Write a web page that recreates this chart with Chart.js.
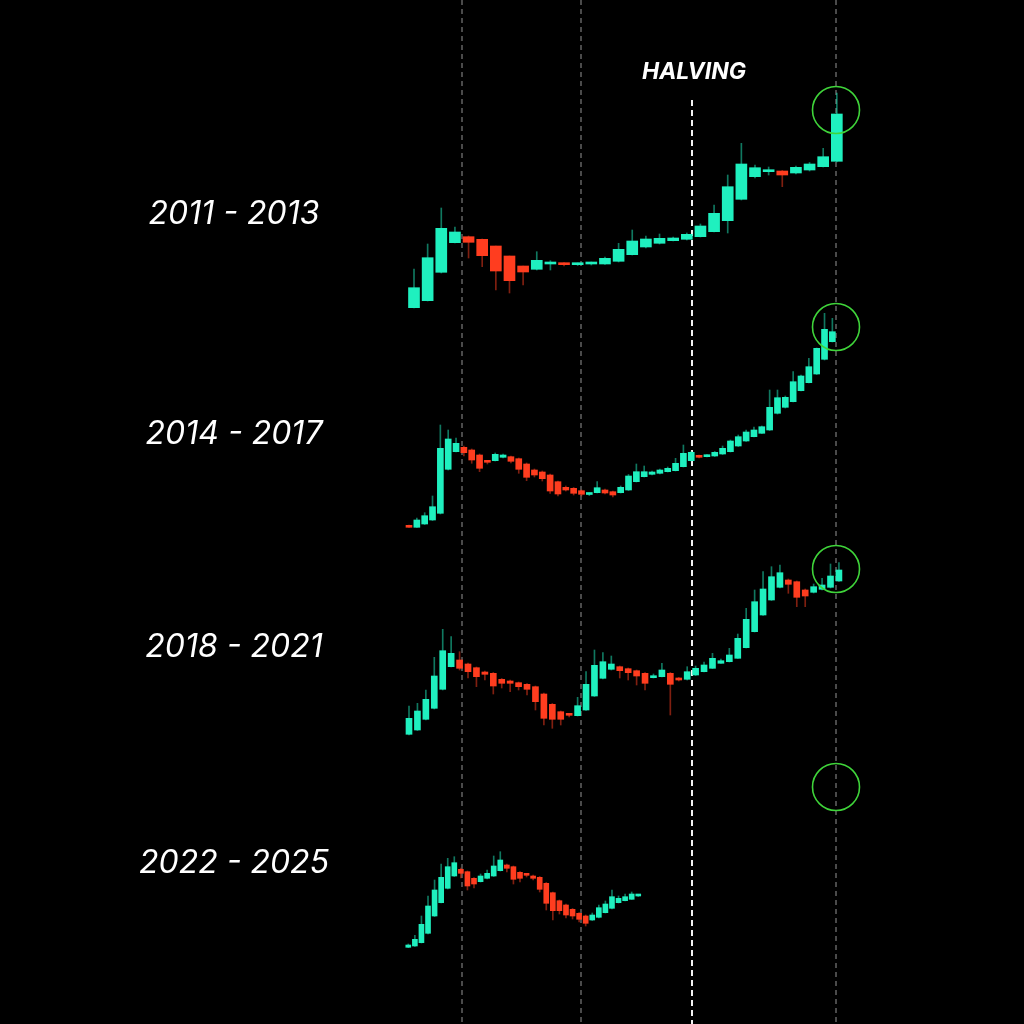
<!DOCTYPE html>
<html>
<head>
<meta charset="utf-8">
<script src="https://cdn.jsdelivr.net/npm/chart.js@4.4.1/dist/chart.umd.min.js"></script>
<style>
  html, body { margin: 0; padding: 0; background: #000; }
  #wrap { position: relative; width: 1024px; height: 1024px; overflow: hidden; }
  #wrap canvas { position: absolute; left: 0; top: 0; }
  .cycle {
    position: absolute; width: 300px; left: 84px; text-align: center;
    color: #fff; font-family: Inter, "Open Sans", sans-serif; font-style: italic;
    font-size: 32px; line-height: 1;
  }
  #halving {
    position: absolute; left: 594px; width: 200px; top: 60px; text-align: center;
    color: #fff; font-family: Inter, "Open Sans", sans-serif; font-style: italic; font-weight: 700;
    font-size: 23px; line-height: 1;
  }
</style>
</head>
<body>
<div id="wrap">
  <canvas id="myChart" width="1024" height="1024"></canvas>
  <div id="halving">HALVING</div>
  <div class="cycle" style="top:197px">2011 - 2013</div>
  <div class="cycle" style="top:417px">2014 - 2017</div>
  <div class="cycle" style="top:630px">2018 - 2021</div>
  <div class="cycle" style="top:846px">2022 - 2025</div>
</div>
<script>
// candles as [open, high, low, close], relative price level of each cycle
var cycleLabels = ['2011 - 2013', '2014 - 2017', '2018 - 2021', '2022 - 2025'];

var cycle2011 = [
  [2.3,41,2,22.3],[9.3,66,9,52.3],[37.7,102,37,81.7],[67.3,83,67,78],[73.3,74,52,67.7],
  [70.7,71,43.3,54.3],[64,64,20,39],[54,54,17,29.3],[44,44,25,38],[40.7,58.3,40,49.7],
  [46,49.3,40,47.3],[46.7,47.5,44,45.3],[45.3,47,44.5,46.3],[46,48,45,47],[46,53,45.5,51.7],
  [48.7,66.7,48,60.7],[55.3,80,55,69],[63,74,62,71],[66.7,76,66,71.7],[69.3,73,69,72],
  [70.7,77,70,75.7],[73.3,86,73,84],[78.3,105,78,96.7],[89.3,135,77,123.3],[110.7,166.7,110,146],
  [133.3,145,132,142.3],[138.3,143,135,140],[139,139.5,123.3,135],[137,144,136,142.7],[140,147.5,139,146],
  [143.3,161.7,143,153.3],[148.7,217,148,196]
];

var cycle2014 = [
  [4.7,5,2.5,2.7],[2.7,12,2.5,10],[6,17.3,5.5,14.3],[10,34,9.5,23.3],[16.7,105,16,81.7],
  [60.7,100,60,91],[78.3,92,78,86.7],[82.7,84,74,77.3],[80,81,66.7,70],[75,76,58.3,61.7],
  [68.7,69.5,66,67.7],[69.3,77,69,75.7],[72.7,76,72,75],[73.3,74,67,68.7],[71.3,72,56.7,60.7],
  [66,67,49.3,52.7],[60,61,53,55],[58,59,49,51.3],[55,56,36.7,39],[48.3,49,34,36],
  [42.7,44,39,40],[41.7,42.5,35,36.7],[39.3,40,34,35.7],[35.5,37,34.5,36.3],[37.3,48.3,37,42.3],
  [40,41,36,37],[38.3,39,33,35],[37.3,44,37,42.7],[40,55.5,39.5,54],[48.3,66,48,58.3],
  [53.3,64,53,58.3],[55.7,59,55,58],[56.7,61,56,60],[58.3,63,58,61.7],[59.3,71.7,59,66.7],
  [63.3,85,63,76.7],[69.3,78.5,69,77.7],[74.3,75,72,72.7],[73.3,75.5,73,74.7],[74,78.5,73.5,77.7],
  [76,84,75.5,81.7],[78.3,90,78,89],[84,95,83.5,93.3],[89,100,88.5,98],[93.3,103,93,100],
  [96.7,104,96.5,103.3],[100,140,99.5,122.7],[116.7,140,116,132.3],[122.7,134,122,132.7],[128.3,158.3,128,148.3],
  [139.3,155,139,154],[147.3,171.7,147,163.3],[156,182,155.5,181.7],[170.7,216.7,170,200.7],[188.3,211.7,188,198.3]
];

var cycle2018 = [
  [5.7,34,5,21.7],[10,36.7,9.5,29],[20.7,50,20,40.7],[31.7,82.7,31,64],[50.7,110.7,50,89.3],
  [73.3,103.3,73,86.7],[80,88.3,70,71.7],[76,77,62,68.3],[72.3,73,53.3,63.3],[68,69,60,65.7],
  [66.7,67.5,46,54],[60.7,61.5,52,56.7],[59,60,48.3,56.7],[57.3,58,50,53.3],[55.7,56.5,45,50.7],
  [53.3,54,30,38.3],[46,47,15,21.7],[35.7,36.5,11.7,20.7],[28.3,29,15,20.7],[25.3,26,23,24.7],
  [24.3,42.7,24,34.3],[30,68.3,29.5,55.7],[44,90,43.5,74.7],[61.7,87.3,61,78.3],[70.7,84,70,76],
  [73.3,74,62,69.3],[71.3,72,60,67.3],[69.3,70,55,64],[66.7,67.5,50,56.7],[62.3,66,62,64.3],
  [63.3,76.7,63,70],[66.7,67.5,25,55.7],[61.7,62.5,59,60],[60.7,73.3,60,68.3],[65,74,64.5,71.7],
  [68.3,78,68,75],[71.7,86.7,71.5,81.7],[76.7,81,76.5,79.3],[78.3,91.7,78,85],[81.7,106,81.5,101.7],
  [92.3,131.7,92,120.7],[108.3,150,108,138.3],[125,168.3,124.5,151],[140,173.3,139.5,163.3],[152.7,175,152,167.3],
  [160,161,146.7,155.7],[158.3,159,133.3,142.7],[150,151,133.3,144],[147.7,156,147,153.3],[150.7,161.7,150,155],
  [152.7,176,152,164],[159,177.3,158.5,170]
];

var cycle2022 = [
  [2.7,6,2.3,5],[4,14.7,3.5,10.7],[7.3,34,7,25.7],[16.7,54,16,44],[34,70,33.5,60],
  [47.3,86,47,72.7],[61.7,91.7,61,83.3],[74,93.3,73.5,87.3],[80.7,82,72,76.7],[78.3,79,60,64],
  [71.7,72.5,62,66],[68.3,76,68,74],[71.7,80,71,76.7],[74,94,73.5,84],[79.3,98.3,79,90],
  [85,86,78,81.7],[83.3,84,66,70.7],[77.7,78.5,68,71.7],[75.3,76,73,74.7],[74,75,70,71.7],
  [72.7,73.5,58,60.7],[66.7,67.5,40,46.7],[57.3,58,30,39.3],[49.3,50,36,39.3],[45,46,32,35],
  [40.7,41.5,31,34],[36.7,37.5,28,30.7],[34,35,24,26.7],[30,37,29.5,35],[32.7,45,32,42.3],
  [37.3,49,37,46],[41.7,60,41,53.3],[47.3,54,47,51.7],[49.3,56,49,53.3],[50.7,58,50.5,56],
  [54,55,53.5,54.5]
];

// level marked by the green circle at the next cycle top
var targetLevels = [200, 203, 171, 163];

// layout of each row: first candle pixel, candle spacing, body width, baseline pixel
var rowLayout = [
  { start: 414, step: 13.64, body: 11, base: 310 },
  { start: 409, step: 7.84, body: 6, base: 530 },
  { start: 409, step: 8.43, body: 6, base: 740 },
  { start: 408.3, step: 6.57, body: 5, base: 950 }
];

var guideLines = [
  { x: 462, top: 0, color: 'rgba(185,185,185,0.8)', width: 1, dash: [5, 4] },
  { x: 581, top: 0, color: 'rgba(185,185,185,0.8)', width: 1, dash: [5, 4] },
  { x: 692, top: 100, color: '#f2f2f2', width: 2, dash: [6, 4] },
  { x: 836, top: 0, color: 'rgba(185,185,185,0.8)', width: 1, dash: [5, 4] }
];

var upColor = '#1ff0bf';
var downColor = '#ff3d1f';
var upWick = 'rgba(31,240,191,0.5)';
var downWick = 'rgba(255,61,31,0.5)';

var cycles = [cycle2011, cycle2014, cycle2018, cycle2022];
var W = 1024, H = 1024;

var datasets = [];
var scales = {};

cycles.forEach(function(rows, r) {
    var lay = rowLayout[r];
    var xId = 'x' + r, yId = 'y' + r;
    scales[xId] = {
        type: 'linear', display: false, offset: false,
        min: -lay.start / lay.step, max: (W - lay.start) / lay.step
    };
    scales[yId] = {
        type: 'linear', display: false, beginAtZero: false,
        min: lay.base - H, max: lay.base
    };
    var isUp = rows.map(function(c){ return c[3] >= c[0]; });
    datasets.push({
        label: cycleLabels[r] + ' body',
        xAxisID: xId, yAxisID: yId, order: 0,
        data: rows.map(function(c, i){ return { x: i, y: [c[0], c[3]] }; }),
        backgroundColor: isUp.map(function(u){ return u ? upColor : downColor; }),
        borderWidth: 0,
        barThickness: lay.body,
        minBarLength: 2,
        grouped: false
    });
    datasets.push({
        label: cycleLabels[r] + ' wick',
        xAxisID: xId, yAxisID: yId, order: 1,
        data: rows.map(function(c, i){ return { x: i, y: [c[2], c[1]] }; }),
        backgroundColor: isUp.map(function(u){ return u ? upWick : downWick; }),
        borderWidth: 0,
        barThickness: 1,
        grouped: false
    });
});

var guidePlugin = {
    id: 'guides',
    beforeDatasetsDraw: function(chart) {
        var ctx = chart.ctx, area = chart.chartArea;
        guideLines.forEach(function(g) {
            ctx.save();
            ctx.strokeStyle = g.color;
            ctx.lineWidth = g.width;
            ctx.setLineDash(g.dash);
            ctx.beginPath();
            ctx.moveTo(g.x, g.top);
            ctx.lineTo(g.x, area.bottom);
            ctx.stroke();
            ctx.restore();
        });
    },
    afterDatasetsDraw: function(chart) {
        var ctx = chart.ctx;
        var cx = guideLines[guideLines.length - 1].x;
        targetLevels.forEach(function(level, r) {
            var cy = chart.scales['y' + r].getPixelForValue(level);
            ctx.save();
            ctx.strokeStyle = '#3fd43a';
            ctx.lineWidth = 1.6;
            ctx.beginPath();
            ctx.arc(cx, cy, 23.5, 0, Math.PI * 2);
            ctx.stroke();
            ctx.restore();
        });
    }
};

var ctx = document.getElementById('myChart');
var myChart = new Chart(ctx, {
    type: 'bar',
    data: { datasets: datasets },
    options: {
        responsive: false,
        maintainAspectRatio: false,
        animation: false,
        layout: { padding: 0 },
        plugins: { legend: { display: false }, tooltip: { enabled: false } },
        scales: scales
    },
    plugins: [guidePlugin]
});
</script>
</body>
</html>
